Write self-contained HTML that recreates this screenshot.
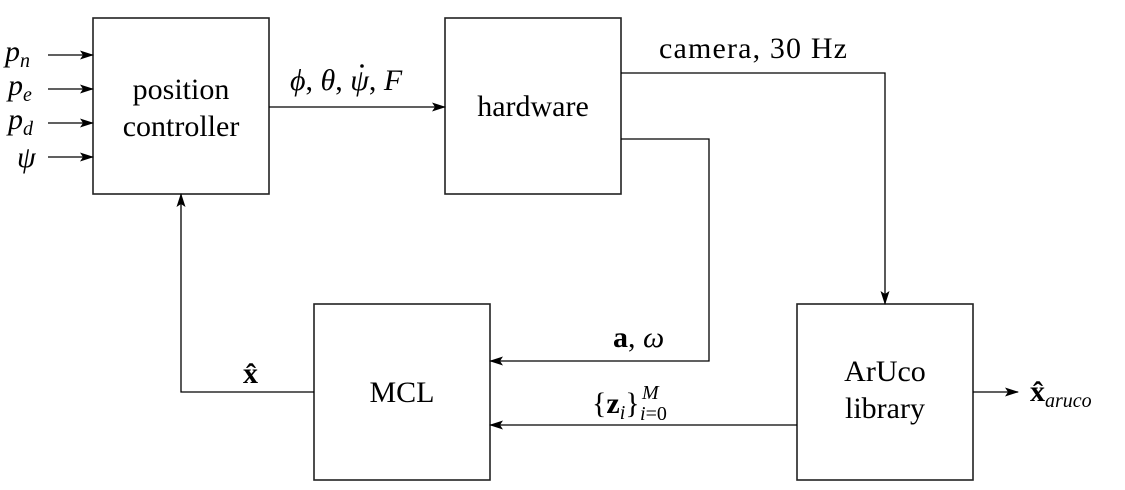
<!DOCTYPE html>
<html><head><style>body{margin:0;background:#fff}svg{display:block}text{font-family:"Liberation Serif",serif;fill:#000}</style></head>
<body>
<svg width="1125" height="490" viewBox="0 0 1125 490">
<defs><marker id="a" markerWidth="14" markerHeight="9" refX="13" refY="4.5" orient="auto" markerUnits="userSpaceOnUse"><path d="M0,0 L14,4.5 L0,9 L3,4.5 z" fill="#000"/></marker></defs>
<g fill="none" stroke="#222" stroke-width="1.6">
<rect x="93" y="18" width="176" height="176"/>
<rect x="445" y="18" width="176" height="176"/>
<rect x="314" y="304" width="176" height="176"/>
<rect x="797" y="304" width="176" height="176"/>
</g>
<g fill="none" stroke="#000" stroke-width="1.3" marker-end="url(#a)">
<line x1="48" y1="55" x2="93" y2="55"/>
<line x1="48" y1="89" x2="93" y2="89"/>
<line x1="48" y1="123" x2="93" y2="123"/>
<line x1="48" y1="157" x2="93" y2="157"/>
<line x1="269" y1="107" x2="445" y2="107"/>
<polyline points="621,73 885,73 885,304"/>
<polyline points="621,139 709,139 709,361 490,361"/>
<line x1="797" y1="425" x2="490" y2="425"/>
<polyline points="314,392 181,392 181,194"/>
<line x1="973" y1="392" x2="1018" y2="392"/>
</g>
<g font-size="30" text-anchor="middle">
<text x="181" y="99">position</text>
<text x="181" y="136">controller</text>
<text x="533" y="116">hardware</text>
<text x="402" y="402">MCL</text>
<text x="885" y="381">ArUco</text>
<text x="885" y="418">library</text>
<text x="753" y="58" textLength="188" lengthAdjust="spacing">camera, 30 Hz</text>
</g>
<circle cx="362" cy="66" r="1.8" fill="#000"/>
<g font-size="30" font-style="italic">
<text x="5" y="61">p<tspan font-size="20" dy="6">n</tspan></text>
<text x="8" y="95">p<tspan font-size="20" dy="6">e</tspan></text>
<text x="8" y="129">p<tspan font-size="20" dy="6">d</tspan></text>
<text x="17" y="167">ψ</text>
<text x="290" y="90">ϕ<tspan font-style="normal">,</tspan> θ<tspan font-style="normal">,</tspan> ψ<tspan font-style="normal">,</tspan> F</text>
<text x="613" y="347"><tspan font-weight="bold" font-style="normal">a</tspan><tspan font-style="normal">,</tspan> ω</text>
<text x="592" y="413"><tspan font-style="normal">{</tspan><tspan font-weight="bold" font-style="normal">z</tspan><tspan font-size="20" dy="6">i</tspan><tspan font-style="normal" dy="-6">}</tspan></text>
<text x="640" y="420" font-size="20">i<tspan font-style="normal">=0</tspan></text>
<text x="642" y="399" font-size="20">M</text>
<text x="1030" y="401"><tspan font-weight="bold" font-style="normal">x̂</tspan><tspan font-size="20" dy="6">aruco</tspan></text>
<text x="243" y="383" font-weight="bold" font-style="normal">x̂</text>
</g>
</svg>
</body></html>
